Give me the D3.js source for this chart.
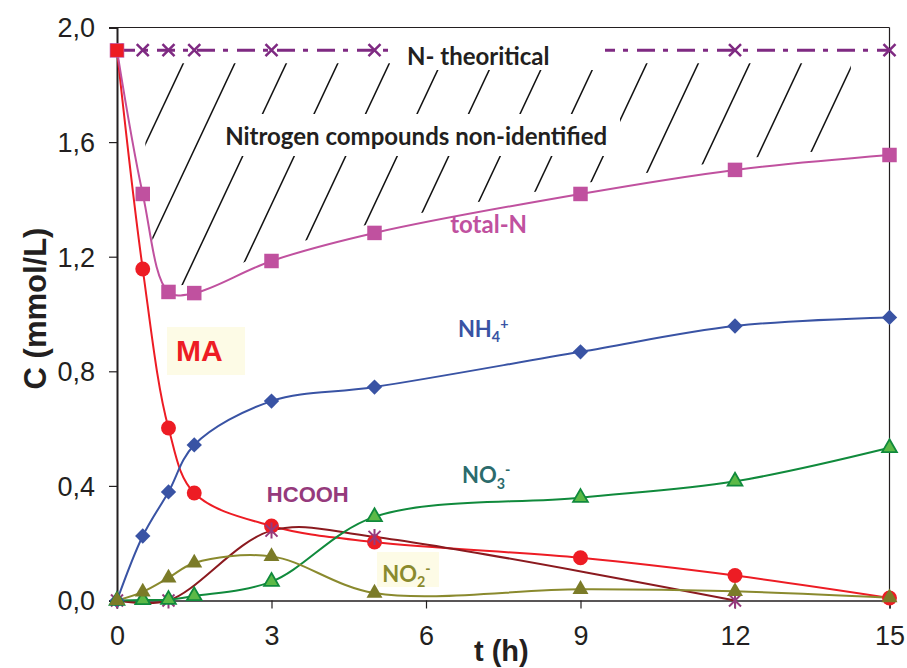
<!DOCTYPE html>
<html>
<head>
<meta charset="utf-8">
<script src="https://cdn.jsdelivr.net/npm/d3@7"></script>
<style>
  html, body { margin: 0; padding: 0; background: #fff; }
  svg { display: block; }
</style>
</head>
<body>
<svg id="chart" width="907" height="668"></svg>
<script>
// ---------- DATA ----------
const tHours   = [0, 0.5, 1, 1.5, 3, 5, 9, 12, 15];
const maValues = [1.92, 1.157, 0.602, 0.375, 0.260, 0.204, 0.149, 0.087, 0.009];
const totalN   = [1.92, 1.419, 1.077, 1.073, 1.185, 1.283, 1.419, 1.503, 1.555];
const nTheo    = [1.921, 1.921, 1.921, 1.921, 1.921, 1.921, 1.921, 1.921, 1.921];
const nh4      = [0, 0.225, 0.379, 0.543, 0.696, 0.745, 0.868, 0.958, 0.988];
const no3      = [0, 0.002, 0.003, 0.016, 0.066, 0.292, 0.359, 0.416, 0.533];
const no2      = [0, 0.030, 0.079, 0.131, 0.154, 0.026, 0.039, 0.032, 0.010];
const hcoohT   = [0, 1, 3, 5, 12];
const hcooh    = [0, 0, 0.244, 0.222, 0];
const xTicks   = [0, 3, 6, 9, 12, 15];
const yTicks   = [0, 0.4, 0.8, 1.2, 1.6, 2.0];

// ---------- LAYOUT ----------
const svg = d3.select("#chart");
const L = 117, T = 27.5, R = 889.5, B = 600.5;
const x = d3.scaleLinear().domain([0, 15]).range([L, R]);
const y = d3.scaleLinear().domain([0, 2]).range([B, T]);
const pts = (ts, vs) => ts.map((t, i) => [t, vs[i]]);
const curve = d3.curveCatmullRom.alpha(0.5);
const line = d3.line().x(d => x(d[0])).y(d => y(d[1])).curve(curve);

const arialFont = "'Liberation Sans', Arial, sans-serif";
const calFont = "Lato, 'Open Sans', sans-serif";

// ---------- HATCH AREA ----------
const defs = svg.append("defs");
const hatchArea = d3.area()
  .x(d => x(d[0]))
  .y0(y(1.921) + 13)
  .y1(d => y(d[1]) - 10)
  .curve(curve);
defs.append("clipPath").attr("id", "hatchClip")
  .append("path")
  .attr("d", hatchArea(pts(tHours, totalN).filter(d => d[0] >= 0.5)));
defs.append("clipPath").attr("id", "hatchClip2")
  .append("rect").attr("x", x(0.55)).attr("y", 0).attr("width", x(14.25) - x(0.55)).attr("height", 668);

const hatchG = svg.append("g").attr("clip-path", "url(#hatchClip2)")
  .append("g").attr("clip-path", "url(#hatchClip)");
const slope = 0.47;
d3.range(-2, 16, 1.0).forEach(t => {
  const yb = y(1.0), yt = y(1.95);
  const xb = x(t);
  hatchG.append("line")
    .attr("x1", xb).attr("y1", yb)
    .attr("x2", xb + slope * (yb - yt)).attr("y2", yt)
    .attr("stroke", "#111").attr("stroke-width", 1.5);
});

// ---------- AXES ----------
const axisColor = "#231f20";
svg.append("line").attr("x1", L).attr("x2", R).attr("y1", T).attr("y2", T).attr("stroke", axisColor).attr("stroke-width", 1.2);
svg.append("line").attr("x1", R).attr("x2", R).attr("y1", T).attr("y2", B).attr("stroke", axisColor).attr("stroke-width", 1.2);

const yAxis = d3.axisLeft(y).tickValues(yTicks).tickSize(8).tickPadding(14)
  .tickFormat(d => d3.format(".1f")(d).replace(".", ","));
const gy = svg.append("g").attr("transform", `translate(${L},0)`).call(yAxis);
gy.select(".domain").attr("stroke", axisColor).attr("stroke-width", 2);
gy.selectAll(".tick line").attr("stroke", axisColor).attr("stroke-width", 1.2);
gy.selectAll(".tick text").attr("font-family", arialFont).attr("font-size", 27).attr("fill", axisColor).attr("dy", "0.35em");

const xAxis = d3.axisBottom(x).tickValues(xTicks).tickSize(8).tickPadding(17).tickFormat(d3.format("d"));
const gx = svg.append("g").attr("transform", `translate(0,${B})`).call(xAxis);
gx.select(".domain").attr("stroke", axisColor).attr("stroke-width", 1.5);
gx.selectAll(".tick line").attr("stroke", axisColor).attr("stroke-width", 1.2);
gx.selectAll(".tick text").attr("font-family", arialFont).attr("font-size", 27).attr("fill", axisColor);

svg.append("text")
  .attr("transform", `translate(46,${(225 + 392) / 2}) rotate(-90)`)
  .attr("text-anchor", "middle")
  .attr("font-family", arialFont).attr("font-weight", "bold").attr("font-size", 31)
  .attr("fill", axisColor).text("C (mmol/L)");
svg.append("text")
  .attr("x", 474).attr("y", 661)
  .attr("font-family", arialFont).attr("font-weight", "bold").attr("font-size", 29)
  .attr("fill", axisColor).text("t (h)");

// ---------- TEXT BACKGROUNDS (white boxes) ----------
svg.append("rect").attr("x", 390).attr("y", 36).attr("width", 215).attr("height", 34).attr("fill", "#fff");
svg.append("rect").attr("x", 216).attr("y", 114).attr("width", 404).attr("height", 42).attr("fill", "#fff");

// ---------- LINES ----------
const cMA = "#ed1c24", cTot = "#c0519f", cTheo = "#7f2a82", cNH4 = "#3953a4",
      cNO3 = "#108a3c", cNO3fill = "#5cb947", cNO2 = "#8a8a2e", cNO2fill = "#7b7b28",
      cHC = "#8b1a1f", cHCm = "#953a7c";

svg.append("path")
  .attr("d", d3.line().x(d => x(d[0])).y(d => y(d[1]))(pts(tHours, nTheo)))
  .attr("fill", "none").attr("stroke", cTheo).attr("stroke-width", 3)
  .attr("stroke-dasharray", "18,8,5,9");
svg.append("rect").attr("x", 390).attr("y", 36).attr("width", 215).attr("height", 30).attr("fill", "#fff");

const series = [
  {ts: tHours, vs: maValues, c: cMA, w: 2},
  {ts: tHours, vs: totalN, c: cTot, w: 2},
  {ts: tHours, vs: nh4, c: cNH4, w: 2},
  {ts: hcoohT, vs: hcooh, c: cHC, w: 2},
  {ts: tHours, vs: no3, c: cNO3, w: 2},
  {ts: tHours, vs: no2, c: cNO2, w: 2}
];
series.forEach(s => {
  svg.append("path").attr("d", line(pts(s.ts, s.vs)))
    .attr("fill", "none").attr("stroke", s.c).attr("stroke-width", s.w);
});

// ---------- MARKERS ----------
const sym = (type, size) => d3.symbol().type(type).size(size)();
pts(tHours, nTheo).forEach(d => {
  const cx = x(d[0]), cy = y(d[1]);
  if (cx > 390 && cx < 605) return;
  svg.append("path")
    .attr("d", `M${cx - 6},${cy - 6}L${cx + 6},${cy + 6}M${cx - 6},${cy + 6}L${cx + 6},${cy - 6}`)
    .attr("stroke", cTheo).attr("stroke-width", 2.5);
});
svg.append("g").selectAll("path").data(pts(tHours, totalN)).join("path")
  .attr("d", sym(d3.symbolSquare, 210))
  .attr("transform", d => `translate(${x(d[0])},${y(d[1])})`)
  .attr("fill", cTot);
svg.append("g").selectAll("path").data(pts(tHours, maValues)).join("path")
  .attr("d", (d, i) => i === 0 ? sym(d3.symbolSquare, 170) : sym(d3.symbolCircle, 175))
  .attr("transform", d => `translate(${x(d[0])},${y(d[1])})`)
  .attr("fill", cMA);
svg.append("g").selectAll("path").data(pts(tHours, nh4)).join("path")
  .attr("d", sym(d3.symbolSquare, 118))
  .attr("transform", d => `translate(${x(d[0])},${y(d[1])}) rotate(45)`)
  .attr("fill", cNH4);
pts(hcoohT, hcooh).forEach(d => {
  const cx = x(d[0]), cy = y(d[1]);
  svg.append("path")
    .attr("d", `M${cx - 6},${cy - 6}L${cx + 6},${cy + 6}M${cx - 6},${cy + 6}L${cx + 6},${cy - 6}M${cx},${cy - 8}L${cx},${cy + 8}`)
    .attr("stroke", cHCm).attr("stroke-width", 2);
});
svg.append("g").selectAll("path").data(pts(tHours, no3)).join("path")
  .attr("d", sym(d3.symbolTriangle, 95))
  .attr("transform", d => `translate(${x(d[0])},${y(d[1])})`)
  .attr("fill", cNO3fill).attr("stroke", cNO3).attr("stroke-width", 1.8);
svg.append("g").selectAll("path").data(pts(tHours, no2)).join("path")
  .attr("d", sym(d3.symbolTriangle, 110))
  .attr("transform", d => `translate(${x(d[0])},${y(d[1])})`)
  .attr("fill", cNO2fill);

// ---------- ANNOTATIONS ----------
function label(t, v, txt, color, font, size, sub, sup) {
  const el = svg.append("text").attr("x", x(t)).attr("y", y(v))
    .attr("font-family", font).attr("font-weight", "bold").attr("font-size", size)
    .attr("fill", color);
  el.append("tspan").text(txt);
  if (sub) el.append("tspan").attr("font-size", size * 0.65).attr("dy", size * 0.25).text(sub);
  if (sup) el.append("tspan").attr("font-size", size * 0.65).attr("dy", -size * 0.6).text(sup);
  return el;
}
label(5.63, 1.869, "N- theoritical", "#231f20", calFont, 24);
label(2.10, 1.590, "Nitrogen compounds non-identified", "#231f20", calFont, 24);
label(6.47, 1.283, "total-N", cTot, calFont, 24);
label(6.62, 0.920, "NH", cNH4, calFont, 22, "4", "+");
label(6.70, 0.410, "NO", "#2b6b6c", calFont, 22, "3", "-");

svg.append("rect").attr("x", 167).attr("y", 327).attr("width", 78).attr("height", 48).attr("fill", "#fdfbe6");
label(1.146, 0.836, "MA", cMA, arialFont, 30);
label(2.91, 0.344, "HCOOH", cHCm, arialFont, 22);
svg.append("rect").attr("x", 377).attr("y", 552).attr("width", 62).attr("height", 35).attr("fill", "#fdfbe6");
label(5.15, 0.065, "NO", cNO2, calFont, 22, "2", "-");
</script>
</body>
</html>
